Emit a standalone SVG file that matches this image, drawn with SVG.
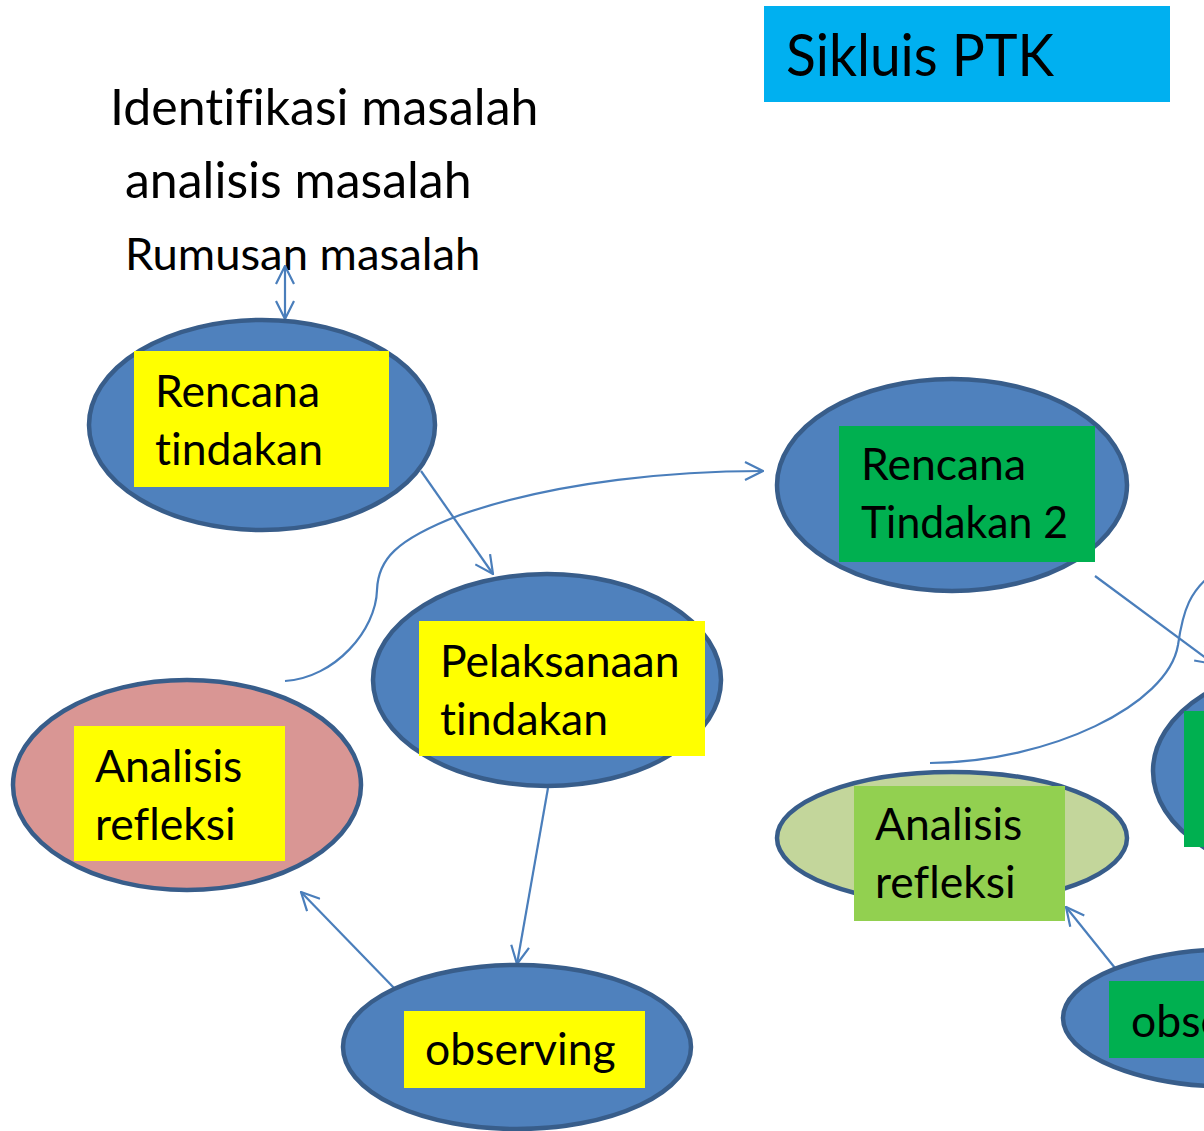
<svg xmlns="http://www.w3.org/2000/svg" width="1204" height="1131" viewBox="0 0 1204 1131">
<defs>
<style>
.t{font-family:Lato,"Open Sans","Liberation Sans",sans-serif;fill:#000;font-variant-ligatures:none;font-feature-settings:"liga" 0,"dlig" 0}
.n{font-size:44.5px}
.blue{fill:#4F81BD;stroke:#385D8A;stroke-width:4.5}
.yel{fill:#FFFF00}
.grn{fill:#00B050}
.lgr{fill:#92D050}
.c{fill:none;stroke:#4A7EBB;stroke-width:2.2}
</style>
<marker id="ah" viewBox="0 0 20 20" refX="19" refY="10" markerWidth="20" markerHeight="20" markerUnits="userSpaceOnUse" orient="auto-start-reverse">
<path d="M1,1 L19,10 L1,19" fill="none" stroke="#4A7EBB" stroke-width="2.2"/>
</marker>
</defs>
<rect width="1204" height="1131" fill="#fff"/>

<g id="title">
<rect x="764" y="6" width="406" height="96" fill="#00B0F0"/>
<text class="t" x="786" y="76" font-size="59" textLength="268" lengthAdjust="spacingAndGlyphs">Sikluis PTK</text>
</g>

<g id="problem-text">
<text class="t" x="110" y="125" font-size="50">Identifikasi masalah</text>
<text class="t" x="125" y="198" font-size="50">analisis masalah</text>
<text class="t" x="125" y="270" font-size="45.4">Rumusan masalah</text>
</g>

<g id="connectors">
<line class="c" x1="285" y1="266" x2="285" y2="319" marker-start="url(#ah)" marker-end="url(#ah)"/>
<line class="c" x1="421" y1="471" x2="493" y2="574" marker-end="url(#ah)"/>
<path class="c" d="M285,681 C335,678 376,630 377,590 C378,560 395,540 460,515 C560,480 680,471 763,471" marker-end="url(#ah)"/>
<line class="c" x1="548" y1="788" x2="517" y2="964" marker-end="url(#ah)"/>
<line class="c" x1="395" y1="989" x2="301" y2="892" marker-end="url(#ah)"/>
<line class="c" x1="1095" y1="576" x2="1214" y2="664" marker-end="url(#ah)"/>
<path class="c" d="M930,763 C1050,762 1168,705 1178,645 C1183,610 1190,590 1215,572"/>
<line class="c" x1="1115" y1="968" x2="1066" y2="907" marker-end="url(#ah)"/>
</g>

<g id="node-rencana">
<ellipse class="blue" cx="262" cy="425" rx="173" ry="105"/>
<rect class="yel" x="134" y="351" width="255" height="136"/>
<text class="t n" x="155" y="407">Rencana</text>
<text class="t n" x="155" y="465">tindakan</text>
</g>

<g id="node-pelaksanaan">
<ellipse class="blue" cx="547" cy="680" rx="174" ry="106"/>
<rect class="yel" x="419" y="621" width="286" height="135"/>
<text class="t n" x="440" y="677">Pelaksanaan</text>
<text class="t n" x="440" y="735">tindakan</text>
</g>

<g id="node-analisis">
<ellipse cx="187" cy="785" rx="174" ry="105" fill="#D99694" stroke="#385D8A" stroke-width="4.5"/>
<rect class="yel" x="74" y="726" width="211" height="135"/>
<text class="t n" x="95" y="782">Analisis</text>
<text class="t n" x="95" y="840">refleksi</text>
</g>

<g id="node-observing">
<ellipse class="blue" cx="517" cy="1047" rx="174" ry="82"/>
<rect class="yel" x="404" y="1011" width="241" height="77"/>
<text class="t n" x="425" y="1065">observing</text>
</g>

<g id="node-rencana2">
<ellipse class="blue" cx="952" cy="485" rx="175" ry="106"/>
<rect class="grn" x="839" y="426" width="256" height="136"/>
<text class="t n" x="861" y="480">Rencana</text>
<text class="t n" x="861" y="538" textLength="207" lengthAdjust="spacingAndGlyphs">Tindakan 2</text>
</g>

<g id="node-pelaksanaan2">
<ellipse class="blue" cx="1327" cy="771" rx="174" ry="108"/>
<rect class="grn" x="1184" y="711" width="286" height="136"/>
</g>

<g id="node-analisis2">
<ellipse cx="952" cy="838" rx="175" ry="66" fill="#C3D69B" stroke="#385D8A" stroke-width="4.5"/>
<rect class="lgr" x="854" y="786" width="211" height="135"/>
<text class="t n" x="875" y="840">Analisis</text>
<text class="t n" x="875" y="898">refleksi</text>
</g>

<g id="node-observing2">
<ellipse class="blue" cx="1237" cy="1018" rx="174" ry="69"/>
<rect class="grn" x="1109" y="981" width="241" height="77"/>
<text class="t n" x="1131" y="1037">observing</text>
</g>
</svg>
